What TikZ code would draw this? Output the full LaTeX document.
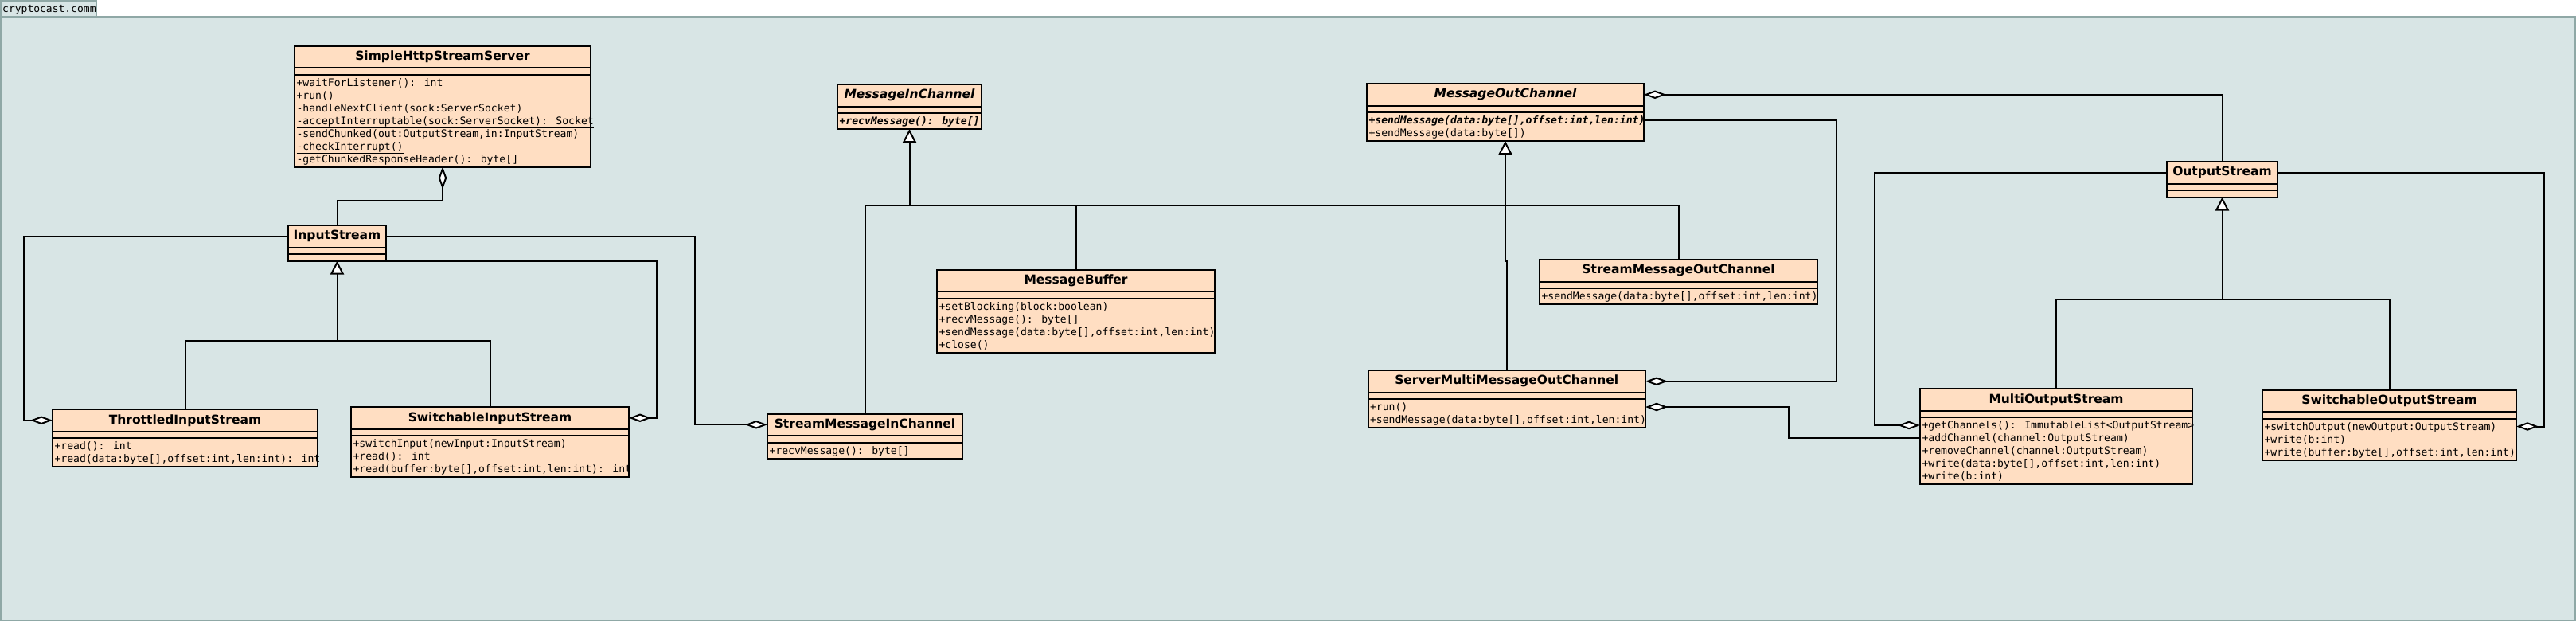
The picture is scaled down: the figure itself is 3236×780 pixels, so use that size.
\documentclass[tikz,border=0pt]{standalone}
\usepackage{fontspec}
\newfontfamily\sansf{DejaVu Sans}
\newfontfamily\monof{DejaVu Sans Mono}
\usetikzlibrary{arrows.meta}
\definecolor{pkgbg}{HTML}{D8E5E5}
\definecolor{pkgline}{HTML}{8FA8A6}
\definecolor{clsfill}{HTML}{FFDEC2}
\tikzset{
  cbox/.style={draw=black, fill=clsfill, line width=2pt, inner sep=0pt, outer sep=0pt, rectangle},
  ttl/.style={cbox, minimum height=27.5pt, font=\sansf\bfseries\fontsize{15.5}{18}\selectfont},
  attrc/.style={cbox, minimum height=8.5pt},
  methc/.style={cbox},
  mtext/.style={inner sep=0pt, outer sep=0pt, anchor=north west, align=left, font=\monof\fontsize{13.1}{16}\selectfont},
  conn/.style={draw=black, line width=2pt},
  gen/.style={conn, -{Triangle[length=17pt,width=17pt,fill=white]}},
  agg/.style={conn, -{Diamond[length=28pt,width=10.5pt,fill=white]}},
}
\newcommand{\umlclass}[7]{%
  \node[ttl, minimum width=#4pt, anchor=north west] (#1-t) at (#2,#3) {#5};
  \node[attrc, minimum width=#4pt, anchor=north] (#1-a) at (#1-t.south) {};
  \node[methc, minimum width=#4pt, minimum height=#6pt, anchor=north] (#1-m) at (#1-a.south) {};
  \node[mtext] (#1-x) at ([xshift=2.5pt,yshift=-3.4pt]#1-m.north west) {\strut#7};
}
\begin{document}
\begin{tikzpicture}[x=1pt,y=-1pt]
\useasboundingbox (0,0) rectangle (3236,780);
\fill[white] (0,0) rectangle (3236,780);
\draw[pkgline, line width=2pt, fill=pkgbg] (1,21) rectangle (3235,779);
\draw[pkgline, line width=2pt, fill=pkgbg] (1,1) rectangle (121,21);
\node[inner sep=0pt, anchor=base west, font=\monof\fontsize{13}{15}\selectfont] (pkgname) at (3,15.5) {cryptocast.comm};

% classes
\umlclass{shss}{370}{57.5}{372}{SimpleHttpStreamServer}{116}{+waitForListener(): int\\+run()\\-handleNextClient(sock:ServerSocket)\\\underline{-acceptInterruptable(sock:ServerSocket): Socket}\\-sendChunked(out:OutputStream,in:InputStream)\\\underline{-checkInterrupt()}\\-getChunkedResponseHeader(): byte[]}
\umlclass{is}{362}{283}{123}{InputStream}{8.5}{}
\umlclass{tis}{66}{514}{333}{ThrottledInputStream}{36}{+read(): int\\+read(data:byte[],offset:int,len:int): int}
\umlclass{sis}{441}{511}{349}{SwitchableInputStream}{52}{+switchInput(newInput:InputStream)\\+read(): int\\+read(buffer:byte[],offset:int,len:int): int}
\umlclass{mic}{1052}{106}{181}{\itshape MessageInChannel}{20}{\bfseries\itshape +recvMessage(): byte[]}
\umlclass{mb}{1177}{338.5}{349}{MessageBuffer}{68}{+setBlocking(block:boolean)\\+recvMessage(): byte[]\\+sendMessage(data:byte[],offset:int,len:int)\\+close()}
\umlclass{smic}{964}{519.5}{245}{StreamMessageInChannel}{20}{+recvMessage(): byte[]}
\umlclass{moc}{1717}{105}{348}{\itshape MessageOutChannel}{36}{{\bfseries\itshape +sendMessage(data:byte[],offset:int,len:int)}\\+sendMessage(data:byte[])}
\umlclass{smoc}{1934}{326}{349}{StreamMessageOutChannel}{20}{+sendMessage(data:byte[],offset:int,len:int)}
\umlclass{smmoc}{1718.5}{465}{348.5}{ServerMultiMessageOutChannel}{36}{+run()\\+sendMessage(data:byte[],offset:int,len:int)}
\umlclass{os}{2722}{203}{139}{OutputStream}{8.5}{}
\umlclass{mos}{2412}{488}{342}{MultiOutputStream}{84}{+getChannels(): ImmutableList<OutputStream>\\+addChannel(channel:OutputStream)\\+removeChannel(channel:OutputStream)\\+write(data:byte[],offset:int,len:int)\\+write(b:int)}
\umlclass{sos}{2842}{489.5}{319}{SwitchableOutputStream}{52}{+switchOutput(newOutput:OutputStream)\\+write(b:int)\\+write(buffer:byte[],offset:int,len:int)}

% generalizations
\coordinate (jIS) at (is-m.south |- 0,428.3);
\draw[gen] (jIS) -- (is-m.south);
\draw[conn] (tis-t.north) |- (jIS) -| (sis-t.north);

\coordinate (jMI) at (mic-m.south |- 0,258.3);
\coordinate (jMO) at (moc-m.south |- 0,258.3);
\draw[gen] (jMI) -- (mic-m.south);
\draw[gen] (jMO) -- (moc-m.south);
\draw[conn] (smic-t.north) |- (jMO);
\draw[conn] (mb-t.north) -- (mb-t.north |- jMI);
\draw[conn] (smmoc-t.north) -- (smmoc-t.north |- 0,328) -| (jMO);
\draw[conn] (jMO) -| (smoc-t.north);

\coordinate (jOS) at (os-m.south |- 0,375.5);
\draw[gen] (jOS) -- (os-m.south);
\draw[conn] (mos-t.north) |- (jOS) -| (sos-t.north);

% aggregations
\draw[agg] (is-t.north) -- (is-t.north |- 0,251.5) -| (shss-m.south);
\draw[agg] (is-t.west) -| ([xshift=-35.6pt]tis-t.west) -- (tis-t.west);
\draw[agg] (is-m.south east) -| ([xshift=35pt]sis-t.east) -- (sis-t.east);
\draw[agg] (is-t.east) -| ([xshift=-91pt]smic-t.west) -- (smic-t.west);
\draw[agg] (os-t.north) |- (moc-t.east);
\draw[agg] ([yshift=-10pt]moc-m.north east) -| ([xshift=239.6pt]smmoc-t.east) -- (smmoc-t.east);
\draw[agg] ([yshift=-26pt]mos-m.north west) -| ([xshift=180pt,yshift=-10pt]smmoc-m.north east) -- ([yshift=-10pt]smmoc-m.north east);
\draw[agg] (os-t.west) -| ([xshift=-57pt,yshift=-10pt]mos-m.north west) -- ([yshift=-10pt]mos-m.north west);
\draw[agg] (os-t.east) -| ([xshift=34.5pt,yshift=-10pt]sos-m.north east) -- ([yshift=-10pt]sos-m.north east);
\end{tikzpicture}
\end{document}
